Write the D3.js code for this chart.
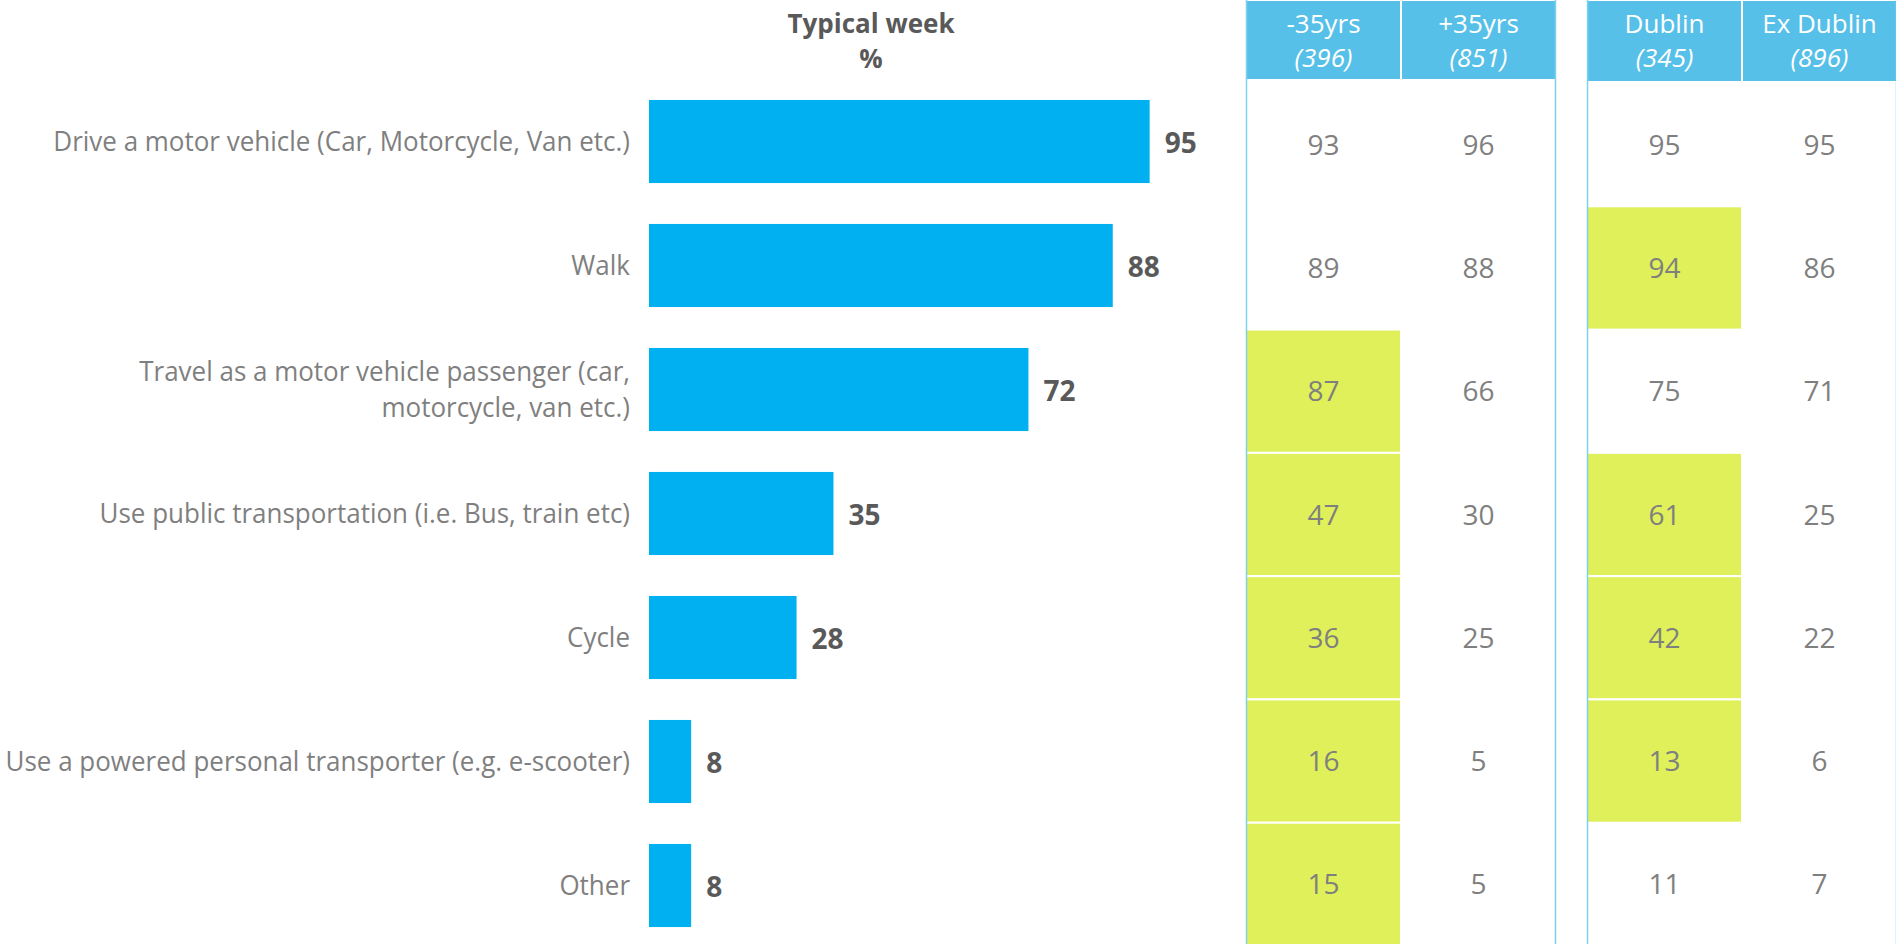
<!DOCTYPE html>
<html>
<head>
<meta charset="utf-8">
<script src="https://cdn.jsdelivr.net/npm/d3@7"></script>
<style>
  html, body { margin: 0; padding: 0; background: #ffffff; }
  svg { display: block; font-family: 'Open Sans', sans-serif; }
</style>
</head>
<body>
<svg id="chart" width="1896" height="944"></svg>
<script>
// ---------- DATA ----------
const categories = [
  "Drive a motor vehicle (Car, Motorcycle, Van etc.)",
  "Walk",
  "Travel as a motor vehicle passenger (car,|motorcycle, van etc.)",
  "Use public transportation (i.e. Bus, train etc)",
  "Cycle",
  "Use a powered personal transporter (e.g. e-scooter)",
  "Other"
];
const typicalWeek = [95, 88, 72, 35, 28, 8, 8];

const groups = ["age", "region"];
const columnLabels = ["-35yrs", "+35yrs", "Dublin", "Ex Dublin"];
const columnBases = ["(396)", "(851)", "(345)", "(896)"];
const under35 = [93, 89, 87, 47, 36, 16, 15];
const over35 = [96, 88, 66, 30, 25, 5, 5];
const dublin = [95, 94, 75, 61, 42, 13, 11];
const exDublin = [95, 86, 71, 25, 22, 6, 7];
// highlighted (significantly higher) cells
const under35High = [false, false, true, true, true, true, true];
const dublinHigh = [false, true, false, true, true, true, false];

const title = ["Typical week", "%"];

// ---------- STYLE ----------
const barColor = "#00b0f0";
const headerColor = "#57c0e8";
const borderColor = "#7fd0ef";
const highlightColor = "#dff05a";
const labelGrey = "#7f7f7f";
const darkGrey = "#595959";

const svg = d3.select("#chart");

// ---------- SCALES ----------
const x = d3.scaleLinear().domain([0, 100]).range([649, 1176]);
const yBar = d3.scaleBand().domain(d3.range(categories.length))
  .range([79.5, 947.5]).paddingInner(0.33).paddingOuter(0.165);
const yRow = d3.scaleBand().domain(d3.range(categories.length))
  .range([83, 946]);

const gx = d3.scaleBand().domain(groups).range([1246, 1897]).paddingInner(0.091);
const cx = d3.scaleBand().domain([0, 1]).range([0, gx.bandwidth()]);

// ---------- TITLE ----------
svg.append("g").selectAll("text").data(title).join("text")
  .attr("x", 871)
  .attr("y", (d, i) => 33 + i * 35)
  .attr("text-anchor", "middle")
  .attr("font-weight", 700)
  .attr("font-size", 26)
  .attr("fill", darkGrey)
  .text(d => d);

// ---------- BARS ----------
svg.append("g").selectAll("rect").data(typicalWeek).join("rect")
  .attr("x", x(0))
  .attr("y", (d, i) => yBar(i))
  .attr("width", d => x(d) - x(0))
  .attr("height", yBar.bandwidth())
  .attr("fill", barColor);

svg.append("g").selectAll("text").data(typicalWeek).join("text")
  .attr("x", d => x(d) + 15)
  .attr("y", (d, i) => yBar(i) + yBar.bandwidth() / 2 + 1)
  .attr("dy", "0.36em")
  .attr("font-weight", 700)
  .attr("font-size", 28)
  .attr("fill", darkGrey)
  .text(d => d);

// ---------- CATEGORY LABELS ----------
const labelG = svg.append("g");
const labelInner = labelG.append("g");
categories.forEach((c, i) => {
  const lines = c.split("|");
  const cy = yBar(i) + yBar.bandwidth() / 2;
  const lh = 36;
  lines.forEach((ln, k) => {
    labelInner.append("text")
      .attr("text-anchor", "end")
      .attr("font-size", 27)
      .attr("fill", labelGrey)
      .attr("x", 0)
      .attr("y", cy + (k - (lines.length - 1) / 2) * lh)
      .attr("dy", "0.36em")
      .text(ln);
  });
});
// compress horizontally to the narrow look of the original font
const firstW = labelInner.select("text").node().getComputedTextLength();
const k = Math.min(1, 577 / firstW);
labelG.attr("transform", `translate(630,0) scale(${k},1)`);

// ---------- TABLE ----------
const tableCols = [
  { g: "age", c: 0, vals: under35, high: under35High, label: columnLabels[0], base: columnBases[0] },
  { g: "age", c: 1, vals: over35, high: null, label: columnLabels[1], base: columnBases[1] },
  { g: "region", c: 0, vals: dublin, high: dublinHigh, label: columnLabels[2], base: columnBases[2] },
  { g: "region", c: 1, vals: exDublin, high: null, label: columnLabels[3], base: columnBases[3] }
];

const table = svg.append("g");

tableCols.forEach(col => {
  const x0 = gx(col.g) + cx(col.c);
  const w = cx.bandwidth();
  const hdrH = col.g === "age" ? 80 : 82;
  // header
  table.append("rect")
    .attr("x", x0).attr("y", 0)
    .attr("width", w).attr("height", hdrH)
    .attr("fill", headerColor)
    .attr("stroke", "#ffffff").attr("stroke-width", 2);
  table.append("text")
    .attr("x", x0 + w / 2).attr("y", 33)
    .attr("text-anchor", "middle")
    .attr("font-size", 26).attr("fill", "#ffffff")
    .text(col.label);
  table.append("text")
    .attr("x", x0 + w / 2).attr("y", 67)
    .attr("text-anchor", "middle")
    .attr("font-size", 26).attr("font-style", "italic").attr("fill", "#ffffff")
    .text(col.base);
  // cells
  col.vals.forEach((v, i) => {
    if (col.high && col.high[i]) {
      table.append("rect")
        .attr("x", x0).attr("y", yRow(i))
        .attr("width", w).attr("height", yRow.bandwidth())
        .attr("fill", highlightColor)
        .attr("stroke", "#ffffff").attr("stroke-width", 2);
    }
    table.append("text")
      .attr("x", x0 + w / 2)
      .attr("y", yRow(i) + yRow.bandwidth() / 2)
      .attr("dy", "0.36em")
      .attr("text-anchor", "middle")
      .attr("font-size", 28)
      .attr("fill", labelGrey)
      .text(v);
  });
});

// group borders
groups.forEach(g => {
  [gx(g) + 0.5, gx(g) + gx.bandwidth() - 0.5].forEach(xx => {
    table.append("line")
      .attr("x1", xx).attr("x2", xx)
      .attr("y1", 0).attr("y2", 944)
      .attr("stroke", borderColor).attr("stroke-width", 1.5);
  });
});
</script>
</body>
</html>
